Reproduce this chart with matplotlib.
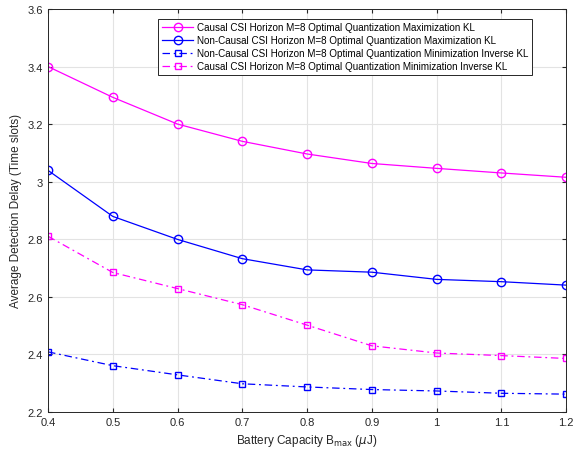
import matplotlib.pyplot as plt

# Battery capacity (uJ)
bmax = [0.4, 0.5, 0.6, 0.7, 0.8, 0.9, 1.0, 1.1, 1.2]

causal_max_kl = [3.40, 3.293, 3.20, 3.14, 3.096, 3.063, 3.046, 3.030, 3.015]
noncausal_max_kl = [3.039, 2.879, 2.799, 2.732, 2.693, 2.685, 2.660, 2.652, 2.640]
noncausal_min_ikl = [2.408, 2.360, 2.328, 2.297, 2.286, 2.277, 2.272, 2.264, 2.261]
causal_min_ikl = [2.810, 2.684, 2.628, 2.572, 2.501, 2.429, 2.404, 2.395, 2.385]

labels = [
    'Causal CSI Horizon M=8 Optimal Quantization Maximization KL',
    'Non-Causal CSI Horizon M=8 Optimal Quantization Maximization KL',
    'Non-Causal CSI Horizon M=8 Optimal Quantization Minimization Inverse KL',
    'Causal CSI Horizon M=8 Optimal Quantization Minimization Inverse KL',
]

plt.rcParams['font.family'] = ['Liberation Sans', 'DejaVu Sans']

fig = plt.figure(figsize=(5.73, 4.56), dpi=100)
ax = fig.add_axes([0.0838, 0.095, 0.9042, 0.883])

dashdot = (0, (6, 3, 1.5, 3))
ax.plot(bmax, causal_max_kl, color='#ff00ff', marker='o', ms=6, mfc='none',
        lw=0.9, label=labels[0])
ax.plot(bmax, noncausal_max_kl, color='#0000ff', marker='o', ms=6, mfc='none',
        lw=0.9, label=labels[1])
ax.plot(bmax, noncausal_min_ikl, color='#0000ff', marker='s', ms=4, mfc='none',
        lw=0.9, ls=dashdot, label=labels[2])
ax.plot(bmax, causal_min_ikl, color='#ff00ff', marker='s', ms=4, mfc='none',
        lw=0.9, ls=dashdot, label=labels[3])

ax.set_xlim(0.4, 1.2)
ax.set_ylim(2.2, 3.6)
ax.set_xticks(bmax)
ax.set_xticklabels(['0.4', '0.5', '0.6', '0.7', '0.8', '0.9', '1', '1.1', '1.2'])
ax.set_yticks([2.2, 2.4, 2.6, 2.8, 3.0, 3.2, 3.4, 3.6])
ax.set_yticklabels(['2.2', '2.4', '2.6', '2.8', '3', '3.2', '3.4', '3.6'])
ax.tick_params(direction='in', labelsize=8, length=3, colors='#262626',
               top=True, right=True)
ax.grid(True, color='#e3e3e3', lw=0.8)
ax.set_axisbelow(True)
for s in ax.spines.values():
    s.set_color('#262626')
    s.set_linewidth(0.7)

ax.set_xlabel(r'Battery Capacity B$_{\rm max}$ ($\mu$J)', fontsize=8.5, color='#262626')
ax.set_ylabel('Average Detection Delay (Time slots)', fontsize=8.5, color='#262626')

leg = ax.legend(loc='upper right', bbox_to_anchor=(0.944, 0.988), fontsize=7.1,
                fancybox=False, framealpha=1, edgecolor='#262626',
                borderpad=0.35, labelspacing=0.3, handlelength=3.2,
                handletextpad=0.4)
leg.get_frame().set_linewidth(0.7)

plt.savefig('out.png', dpi=100)
